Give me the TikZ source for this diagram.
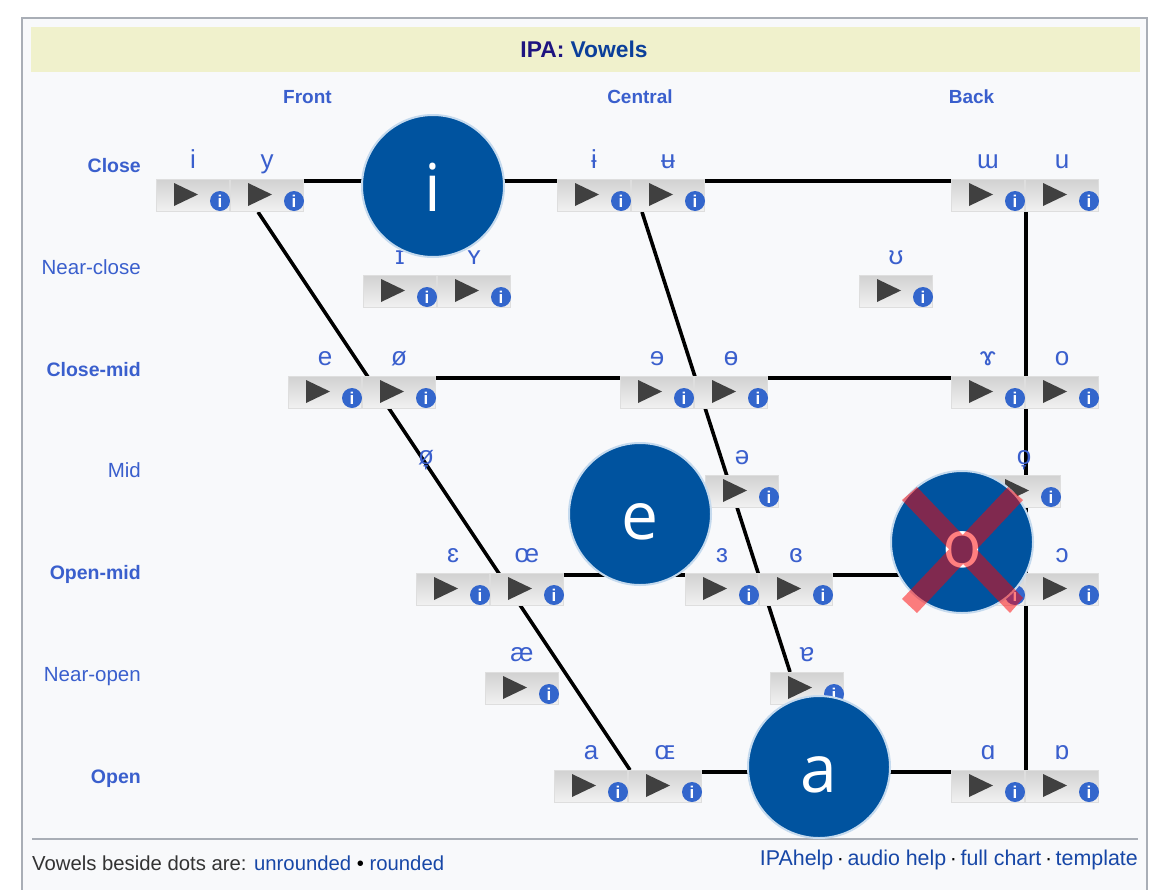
\documentclass[tikz,border=0pt]{standalone}
\usepackage{fontspec}
\setmainfont{Liberation Sans}
\newfontfamily\circfont{Open Sans}
\usetikzlibrary{backgrounds}
\definecolor{linkblue}{HTML}{3A5FCD}
\definecolor{titleblue}{HTML}{0B3F9A}
\definecolor{navy}{HTML}{1E1480}
\definecolor{framegray}{HTML}{A9AEB6}
\definecolor{panel}{HTML}{F8F9FB}
\definecolor{titlebar}{HTML}{F0F1CC}
\definecolor{btnedge}{HTML}{DEDEDE}
\definecolor{playdark}{HTML}{404040}
\definecolor{infoblue}{HTML}{3366CC}
\definecolor{vowelblue}{HTML}{00539F}
\definecolor{halo}{HTML}{C5DAEE}
\definecolor{BTNTOP}{HTML}{D2D2D2}
\definecolor{BTNBOT}{HTML}{F2F2F2}
\tikzset{
  x=1pt,y=-1pt,
  btn/.style={rectangle,draw=btnedge,line width=1pt,minimum width=73pt,minimum height=32pt,inner sep=0pt,
    top color=BTNTOP,bottom color=BTNBOT,anchor=north west},
  conn/.style={draw=black,line width=3.6pt},
  ipa/.style={text=linkblue,font=\fontsize{26}{26}\selectfont,anchor=base,inner sep=0pt},
  rowb/.style={text=linkblue,font=\bfseries\fontsize{19.5}{19.5}\selectfont,anchor=base east,inner sep=0pt},
  rowr/.style={text=linkblue,font=\fontsize{20.5}{20.5}\selectfont,anchor=base east,inner sep=0pt},
  colh/.style={text=linkblue,font=\bfseries\fontsize{19}{19}\selectfont,anchor=base,inner sep=0pt},
  vowelc/.style={circle,fill=vowelblue,draw=halo,line width=2pt,minimum size=142pt,inner sep=0pt,text=white,
    text height=50pt,text depth=0pt,font=\circfont\fontsize{66}{66}\selectfont},
  foot/.style={inner sep=0pt}
}
\newcommand{\ipabtn}[4]{% name, x, y, label
  \node[btn] (#1) at (#2,#3) {};
  \fill[playdark] ([xshift=18pt,yshift=-4pt]#1.north west) -- ([xshift=18pt,yshift=-27pt]#1.north west) -- ([xshift=42pt,yshift=-15.5pt]#1.north west) -- cycle;
  \fill[infoblue] ([xshift=64pt,yshift=-22pt]#1.north west) circle (10pt);
  \node[text=white,font=\bfseries\fontsize{17}{17}\selectfont,inner sep=0pt] at ([xshift=64pt,yshift=-22pt]#1.north west) {i};
  \node[ipa] (#1l) at (#2+37,#3-11) {#4};
}
\begin{document}
\begin{tikzpicture}
\useasboundingbox (0,0) rectangle (1161,889);
\node[inner sep=0pt,font=\bfseries\fontsize{22.8}{22.8}\selectfont] (title) at (584,49.5) {\textcolor{navy}{IPA:} \textcolor{titleblue}{Vowels}};
\node[colh] (hfront) at (307.5,103) {Front};
\node[colh] (hcentral) at (640,103) {Central};
\node[colh] (hback) at (971.5,103) {Back};
\node[rowb] (rclose) at (141,172) {Close};
\node[rowr] (rnclose) at (141,274) {Near-close};
\node[rowb] (rcmid) at (141,376) {Close-mid};
\node[rowr] (rmid) at (141,477) {Mid};
\node[rowb] (romid) at (141,579) {Open-mid};
\node[rowr] (rnopen) at (141,681) {Near-open};
\node[rowb] (ropen) at (141,783) {Open};

% close
\ipabtn{ci}{156}{179}{i}
\ipabtn{cy}{230}{179}{y}
\ipabtn{cib}{557}{179}{ɨ}
\ipabtn{cub}{631}{179}{ʉ}
\ipabtn{cum}{951}{179}{ɯ}
\ipabtn{cu}{1025}{179}{u}
% near-close
\ipabtn{nci}{363}{275}{ɪ}
\ipabtn{ncy}{437}{275}{ʏ}
\ipabtn{ncu}{859}{275}{ʊ}
% close-mid
\ipabtn{me}{288}{376}{e}
\ipabtn{mo}{362}{376}{ø}
\ipabtn{mre}{620}{376}{ɘ}
\ipabtn{mbo}{694}{376}{ɵ}
\ipabtn{mgam}{951}{376}{ɤ}
\ipabtn{moo}{1025}{376}{o}
% mid
\ipabtn{shwa}{705}{475}{ə}
\ipabtn{midb}{987}{475}{o̞}
% open-mid
\ipabtn{oe}{416}{573}{ɛ}
\ipabtn{ooe}{490}{573}{œ}
\ipabtn{orev}{685}{573}{ɜ}
\ipabtn{oclo}{759}{573}{ɞ}
\ipabtn{ovv}{951}{573}{}
\ipabtn{ooo}{1025}{573}{ɔ}
% near-open
\ipabtn{nae}{485}{672}{æ}
\ipabtn{nao}{770}{672}{ɐ}
% open
\ipabtn{pa}{554}{770}{a}
\ipabtn{poe}{628}{770}{ɶ}
\ipabtn{pal}{951}{770}{ɑ}
\ipabtn{pob}{1025}{770}{ɒ}

\begin{scope}[on background layer]
\path[fill=white] (0,0) rectangle (1161,889);
\path[fill=panel,draw=framegray,line width=1.5pt] (22,18) -- (1147,18) -- (1147,895) -- (22,895) -- cycle;
\path[fill=titlebar] (31,27) rectangle (1140,72);
\draw[conn] ([yshift=-2pt]cy.north east) -- ([yshift=-2pt]cum.north west);
\draw[conn] ([yshift=-2pt]mo.north east) -- ([yshift=-2pt]mgam.north west);
\draw[conn] ([yshift=-2pt]ooe.north east) -- ([yshift=-2pt]ovv.north west);
\draw[conn] ([yshift=-2pt]poe.north east) -- ([yshift=-2pt]pal.north west);
\draw[conn] ([xshift=1pt]cu.south west) -- ([xshift=1pt]pob.north west);
\draw[conn] ([xshift=-9pt]cy.south) -- ([xshift=2pt]poe.north west);
\draw[conn] ([xshift=11pt]cib.south east) -- ([xshift=-17pt]nao.north);
\end{scope}

\node[ipa] (midf) at (426,464) {ø̞};

\path[draw=framegray,line width=1.5pt] (32,839) -- (1138,839);
\node[foot,anchor=base west,font=\fontsize{20.3}{20.3}\selectfont] (legend) at (32,870) {\textcolor[HTML]{333333}{Vowels beside dots are:} \textcolor{titleblue!75!linkblue}{unrounded} \textcolor{black}{•} \textcolor{titleblue!75!linkblue}{rounded}};
\node[foot,anchor=base east,text=titleblue!75!linkblue,font=\fontsize{21.4}{21.4}\selectfont] (links) at (1138,865) {IPAhelp\,\textcolor{black}{·}\,audio help\,\textcolor{black}{·}\,full chart\,\textcolor{black}{·}\,template};

\node[vowelc] (vi) at (433,186) {i};
\node[vowelc] (ve) at (640,514) {e};
\node[vowelc] (vo) at (962,542) {o};
\node[vowelc] (va) at (819,767) {a};
\fill[red,opacity=.5]
  (902,500) -- (917,487) -- (1023,598) -- (1010,613) -- cycle
  (1008,487) -- (1023,500) -- (917,613) -- (902,599) -- cycle;
\end{tikzpicture}
\end{document}
